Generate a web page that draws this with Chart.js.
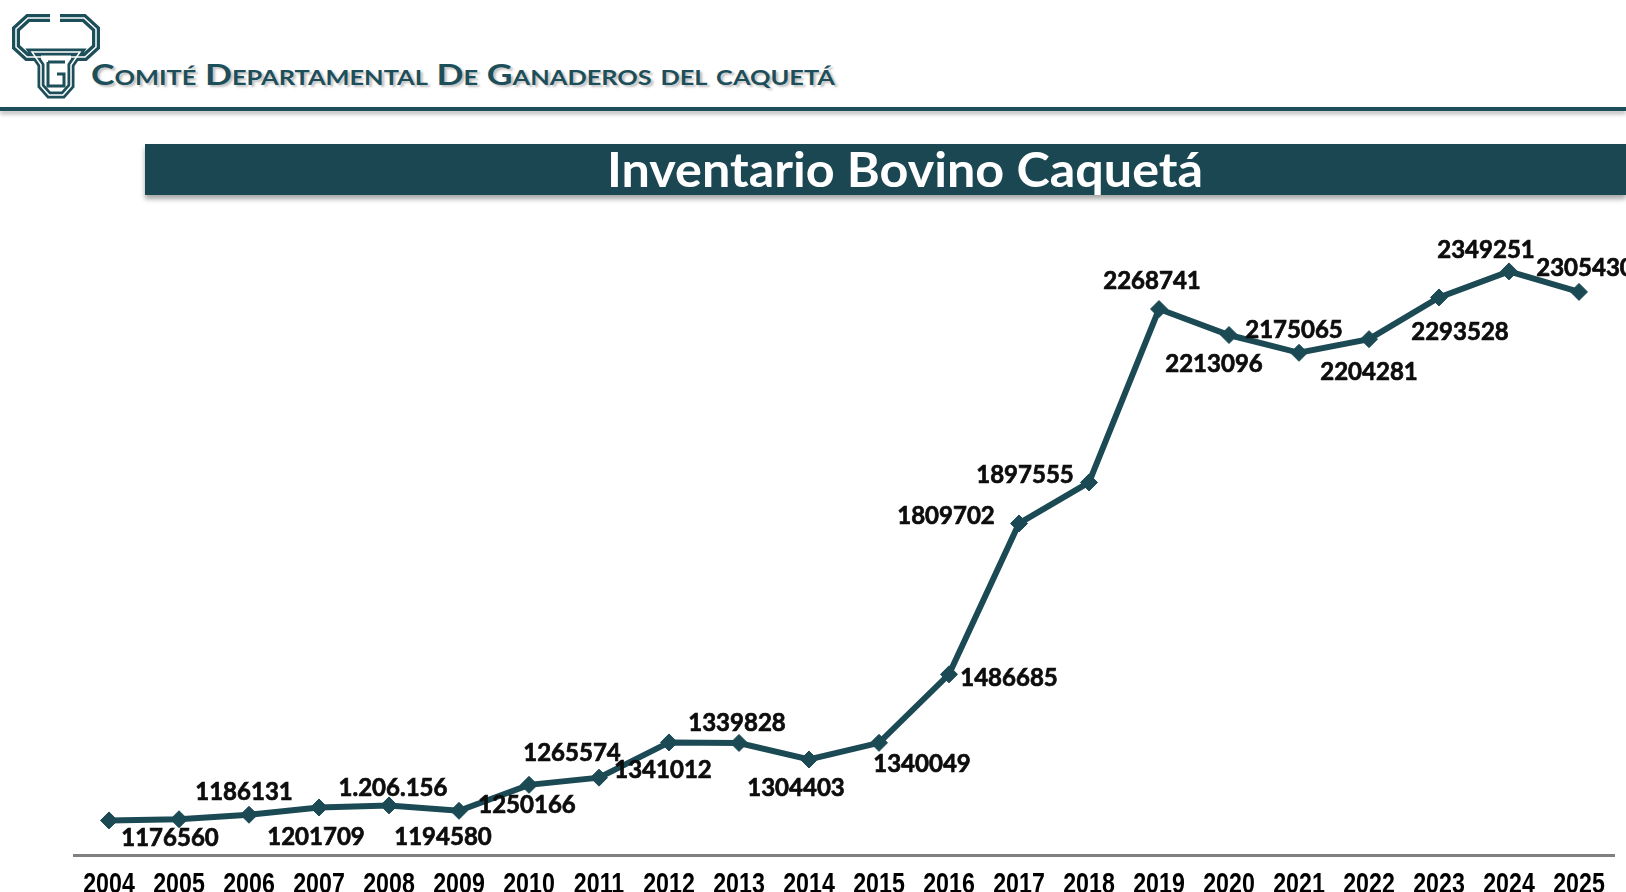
<!DOCTYPE html>
<html>
<head>
<meta charset="utf-8">
<script src="https://cdn.jsdelivr.net/npm/chart.js@4.4.1/dist/chart.umd.min.js"></script>
<style>
  html, body { margin: 0; padding: 0; background: #fff; }
  body { width: 1626px; height: 892px; position: relative; overflow: hidden; font-family: Lato, "Open Sans", sans-serif; }
  #logo { position: absolute; left: 8px; top: 10px; }
  #org {
    position: absolute; left: 91px; top: 60px; line-height: 1;
    color: #1d4f5a; font-weight: 700; font-size: 28px; font-variant: small-caps;
    white-space: nowrap; transform-origin: 0 0;
    text-shadow: 2px 2px 2px rgba(0, 0, 0, 0.25);
  }
  #rule {
    position: absolute; left: 0; top: 107px; width: 1626px; height: 4px;
    background: #1d4f5a; box-shadow: 0 3px 4px rgba(0, 0, 0, 0.3);
  }
  #band {
    position: absolute; left: 145px; top: 144px; width: 1481px; height: 51px;
    background: #1b4752; box-shadow: 0 4px 5px rgba(0, 0, 0, 0.35);
  }
  #title {
    position: absolute; left: 607px; top: 145px; line-height: 1;
    color: #fff; font-weight: 700; font-size: 48px;
    white-space: nowrap; transform-origin: 0 0;
  }
  #chart { position: absolute; left: 0; top: 0; }
</style>
</head>
<body>

<svg id="logo" width="96" height="92" viewBox="0 0 96 92">
  <g fill="none" stroke="#1d4f5a" stroke-linejoin="miter">
    <path d="M42 8 L20 8 L8 19 L8 37 L19 47 L33 47" stroke-width="8"/>
    <path d="M52 8 L76 8 L88 19 L88 37 L77 47 L63 47" stroke-width="8"/>
    <path d="M24 42 L72 42 L63 55 L63 76 L55 85 L41 85 L33 76 L33 55 Z" stroke-width="7"/>
  </g>
  <g fill="none" stroke="#fff" stroke-width="1.5">
    <path d="M42 8 L20 8 L8 19 L8 37 L19 47 L33 47"/>
    <path d="M52 8 L76 8 L88 19 L88 37 L77 47 L63 47"/>
    <path d="M24 42 L72 42 L63 55 L63 76 L55 85 L41 85 L33 76 L33 55 Z"/>
  </g>
  <path d="M40 52 L57 52 M40 52 L40 76 L56 76 L56 64 L49 64" fill="none" stroke="#1d4f5a" stroke-width="3"/>
</svg>
<div id="org">Comité Departamental De Ganaderos del caquetá</div>
<div id="rule"></div>
<div id="band"></div>
<div id="title">Inventario Bovino Caquetá</div>
<canvas id="chart" width="1626" height="892"></canvas>

<script>
const years = ["2004", "2005", "2006", "2007", "2008", "2009", "2010", "2011", "2012", "2013", "2014",
  "2015", "2016", "2017", "2018", "2019", "2020", "2021", "2022", "2023", "2024", "2025"];

const cattle = [1174000, 1176560, 1186131, 1201709, 1206156, 1194580, 1250166, 1265574, 1341012, 1339828,
  1304403, 1340049, 1486685, 1809702, 1897555, 2268741, 2213096, 2175065, 2204281, 2293528, 2349251, 2305430];

// text shown next to each point (2004 has none in the original)
const valueLabels = ["", "1176560", "1186131", "1201709", "1.206.156", "1194580", "1250166", "1265574",
  "1341012", "1339828", "1304403", "1340049", "1486685", "1809702", "1897555", "2268741", "2213096",
  "2175065", "2204281", "2293528", "2349251", "2305430"];

const teal = "#1b4a55";

// where each label sits relative to its point [dx, dy]
const labelOffsets = [
  [0, 0], [-9, 17], [-5, -24], [-3, 28], [4, -19], [-16, 24], [-2, 18], [-27, -26],
  [-6, 26], [-2, -22], [-13, 27], [43, 19], [60, 2], [-73, -9], [-64, -9], [-7, -30],
  [-15, 27], [-5, -25], [0, 31], [21, 33], [-23, -23], [6, -26]
];

function fitWidth(id, w) {
  const el = document.getElementById(id);
  const r = el.getBoundingClientRect().width;
  el.style.transform = "scaleX(" + (w / r) + ")";
}
fitWidth("org", 744);
fitWidth("title", 596);

const pointLabelPlugin = {
  id: "pointLabels",
  afterDatasetsDraw(chart) {
    const ctx = chart.ctx;
    const meta = chart.getDatasetMeta(0);
    ctx.save();
    ctx.font = "bold 24px Lato";
    ctx.fillStyle = "#0d0d0d";
    ctx.strokeStyle = "#0d0d0d";
    ctx.lineWidth = 0.7;
    ctx.textAlign = "center";
    ctx.textBaseline = "middle";
    meta.data.forEach((pt, i) => {
      if (!valueLabels[i]) return;
      const o = labelOffsets[i];
      ctx.fillText(valueLabels[i], pt.x + o[0], pt.y + o[1] + 2);
      ctx.strokeText(valueLabels[i], pt.x + o[0], pt.y + o[1] + 2);
    });
    ctx.restore();
  }
};

// narrow bold year labels (no condensed font installed, so squeeze them)
const yearTicksPlugin = {
  id: "yearTicks",
  afterDraw(chart) {
    const ctx = chart.ctx;
    const xs = chart.scales.x;
    ctx.save();
    ctx.font = "bold 29px 'Liberation Sans', Arial, sans-serif";
    ctx.fillStyle = "#000";
    ctx.textAlign = "center";
    ctx.textBaseline = "middle";
    xs.ticks.forEach((t, i) => {
      const x = xs.getPixelForTick(i);
      ctx.save();
      ctx.translate(x, xs.top + 30);
      ctx.scale(0.8, 1);
      ctx.fillText(xs.getLabelForValue(t.value), 0, 0);
      ctx.restore();
    });
    ctx.restore();
  }
};

new Chart(document.getElementById("chart"), {
  type: "line",
  data: {
    labels: years,
    datasets: [{
      data: cattle,
      borderColor: teal,
      borderWidth: 6,
      backgroundColor: teal,
      pointStyle: "rectRot",
      pointRadius: 8.5,
      pointBorderWidth: 1,
      pointBackgroundColor: teal,
      pointBorderColor: teal,
      tension: 0,
      clip: false
    }]
  },
  options: {
    responsive: false,
    animation: false,
    events: [],
    layout: { padding: { top: 201, left: 74, right: 12, bottom: 0 } },
    plugins: { legend: { display: false }, tooltip: { enabled: false } },
    scales: {
      x: {
        offset: true,
        grid: { display: false, drawTicks: false },
        border: { display: true, color: "#7f7f7f", width: 3 },
        ticks: { display: false, autoSkip: false },
        afterFit(scale) { scale.height = 37; }
      },
      y: { display: false, min: 1100000, max: 2500000 }
    }
  },
  plugins: [pointLabelPlugin, yearTicksPlugin]
});
</script>
</body>
</html>
